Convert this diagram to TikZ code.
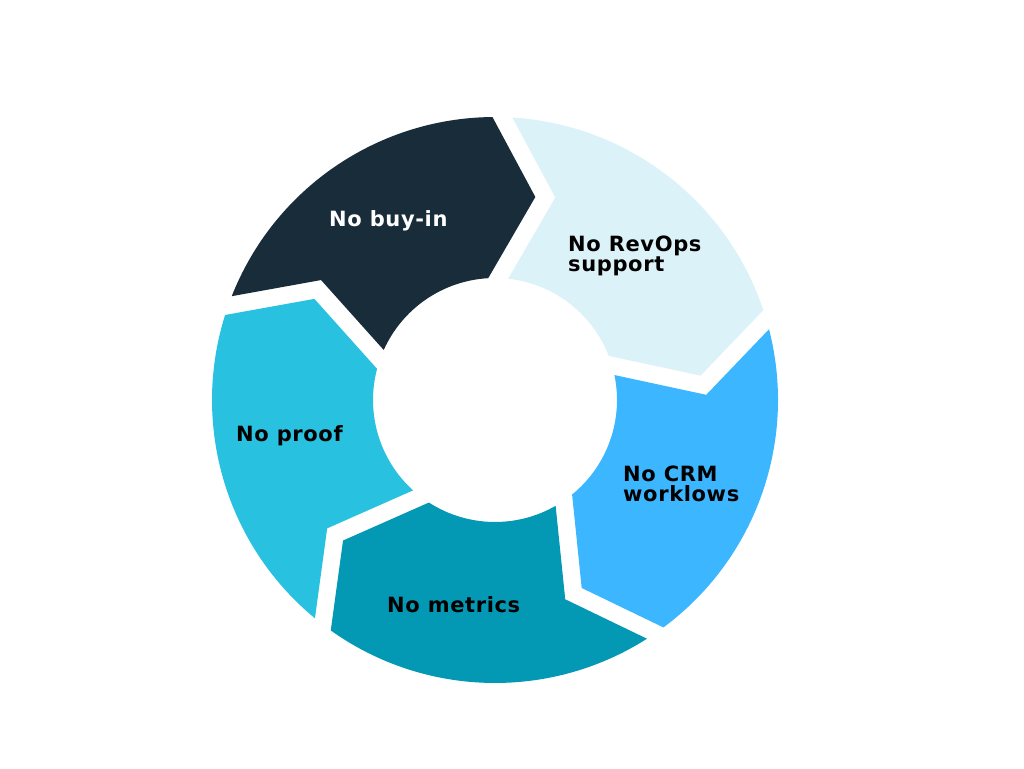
\documentclass[tikz,border=0pt]{standalone}
\usepackage{fontspec}
\setmainfont{DejaVu Sans}[LetterSpace=3]
\usetikzlibrary{calc}
\definecolor{cdark}{HTML}{182C3A}
\definecolor{clight}{HTML}{DCF2F9}
\definecolor{cblue}{HTML}{3BB6FF}
\definecolor{cteal}{HTML}{0399B4}
\definecolor{ccyan}{HTML}{29C1E0}
\newcommand\cycseg[2]{%
  \pgfmathsetmacro\segA{#1}%
  \pgfmathsetmacro\segB{#1-72}%
  \fill[#2] (\segA-2.02:283) arc[start angle=\segA-2.02, end angle=\segB+2.02, radius=283]
    -- (\segB-9.74:207) -- (\segB+4.70:122)
    arc[start angle=\segB+4.70, end angle=\segA-4.70, radius=122]
    -- (\segA-15.09:211.3) -- cycle;
}
\begin{document}
\begin{tikzpicture}[x=1pt,y=1pt,
  lab/.style={inner sep=0pt, font=\fontsize{21}{20}\selectfont\bfseries, align=left}]
\useasboundingbox (0,0) rectangle (1024,768);
\fill[white] (0,0) rectangle (1024,768);
\begin{scope}[shift={(495,368)}]
  \cycseg{160.5}{cdark}
  \cycseg{88.5}{clight}
  \cycseg{16.5}{cblue}
  \cycseg{-55.5}{cteal}
  \cycseg{-127.5}{ccyan}
\end{scope}
\node[lab, text=white, anchor=base west] (buyin) at (329,541) {No buy-in};
\node[lab, anchor=base west] (revops) at (568,496) {No RevOps\\support};
\node[lab, anchor=base west] (crm) at (623,266) {No CRM\\worklows};
\node[lab, anchor=base west] (metrics) at (387,156) {No metrics};
\node[lab, anchor=base west] (proof) at (236,326) {No proof};
\end{tikzpicture}
\end{document}
